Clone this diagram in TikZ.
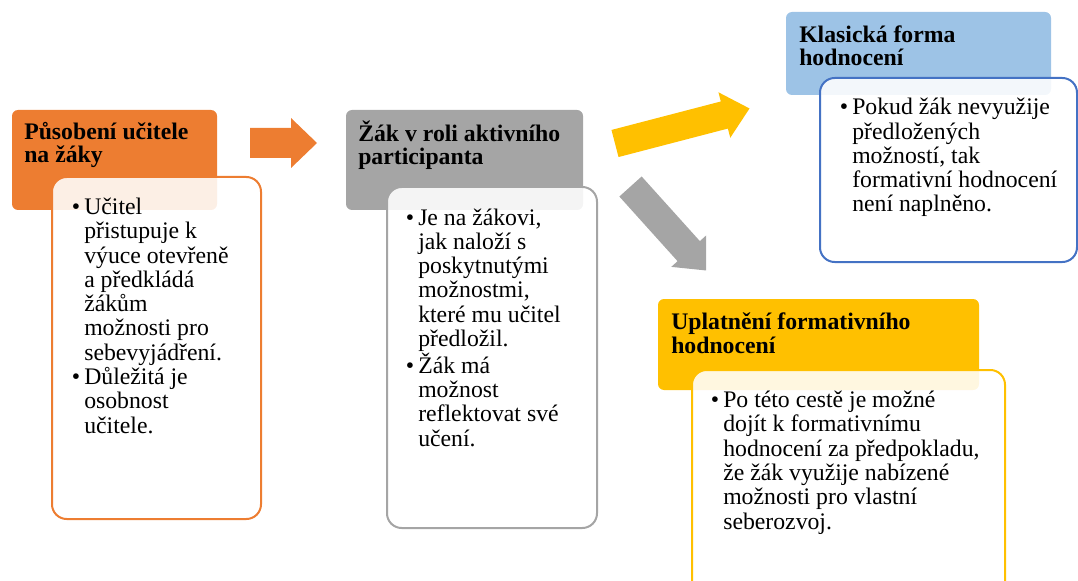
\documentclass[tikz,border=0pt]{standalone}
\usepackage{fontspec}
\setmainfont{Liberation Serif}
\definecolor{hdrOrange}{HTML}{ED7D31}
\definecolor{hdrGray}{HTML}{A5A5A5}
\definecolor{hdrBlue}{HTML}{9DC3E6}
\definecolor{lineBlue}{HTML}{4472C4}
\definecolor{hdrYellow}{HTML}{FFC000}
\tikzset{
  hdrbox/.style={rounded corners=4.5pt},
  bodybox/.style={rounded corners=11pt, line width=1.5pt, fill=white, fill opacity=0.88},
  hdrtext/.style={anchor=base west, inner sep=0pt, align=left, font=\bfseries\fontsize{17.8}{17.3}\selectfont},
  bodytext/.style={anchor=base west, inner sep=0pt, align=left, font=\fontsize{17.8}{18.2}\selectfont},
}
\newcommand{\bul}{\llap{\textbullet\hskip 3pt}}
\begin{document}
\begin{tikzpicture}[x=0.75pt,y=-0.75pt]
\useasboundingbox (0,0) rectangle (1078,581);
\clip (0,0) rectangle (1078,581);
% Drawing header boxes
\fill[hdrbox,hdrOrange] (12,110) rectangle (217,210);
\fill[hdrbox,hdrGray] (346,110) rectangle (583,210);
\fill[hdrbox,hdrBlue] (786,12) rectangle (1051,95);
\fill[hdrbox,hdrYellow] (658,299) rectangle (979,390);
% Drawing block arrows
\fill[hdrOrange] (250,128) -- (291,128) -- (291,118) -- (317,143) -- (291,168) -- (291,158) -- (250,158) -- cycle;
\begin{scope}[shift={(615,143.5)},rotate=14.6]
\fill[hdrYellow] (0,-14) -- (113,-14) -- (113,-23.5) -- (139,0) -- (113,23.5) -- (113,14) -- (0,14) -- cycle;
\end{scope}
\begin{scope}[shift={(630.5,186.5)},rotate=-48]
\fill[hdrGray] (0,-15) -- (87,-15) -- (87,-23.5) -- (113,0) -- (87,23.5) -- (87,15) -- (0,15) -- cycle;
\end{scope}
% Drawing body boxes
\filldraw[bodybox,draw=hdrOrange] (52,177) rectangle (261,519);
\filldraw[bodybox,draw=hdrGray] (387,187) rectangle (597,528);
\filldraw[bodybox,draw=lineBlue] (820,78) rectangle (1077,262);
\filldraw[bodybox,draw=hdrYellow] (692,370) rectangle (1005,640);
% Done with boxes; drawing texts (anchored at the last line)
\node[hdrtext] (hdrA) at (24,163) {Působení učitele\\na žáky};
\node[hdrtext] (hdrB) at (358,165) {Žák v roli aktivního\\participanta};
\node[hdrtext] (hdrC) at (799,66) {Klasická forma\\hodnocení};
\node[hdrtext] (hdrD) at (671,353) {Uplatnění formativního\\hodnocení};
\node[bodytext] (txtA) at (84,433) {\bul Učitel\\přistupuje k\\výuce otevřeně\\a předkládá\\žákům\\možnosti pro\\sebevyjádření.\\\bul Důležitá je\\osobnost\\učitele.};
\node[bodytext] (txtB) at (418,446) {\bul Je na žákovi,\\jak naloží s\\poskytnutými\\možnostmi,\\které mu učitel\\předložil.\\\bul Žák má\\možnost\\reflektovat své\\učení.};
\node[bodytext] (txtC) at (852,212) {\bul Pokud žák nevyužije\\předložených\\možností, tak\\formativní hodnocení\\není naplněno.};
\node[bodytext] (txtD) at (723,529) {\bul Po této cestě je možné\\dojít k formativnímu\\hodnocení za předpokladu,\\že žák využije nabízené\\možnosti pro vlastní\\seberozvoj.};
% Done with texts
\end{tikzpicture}
\end{document}
